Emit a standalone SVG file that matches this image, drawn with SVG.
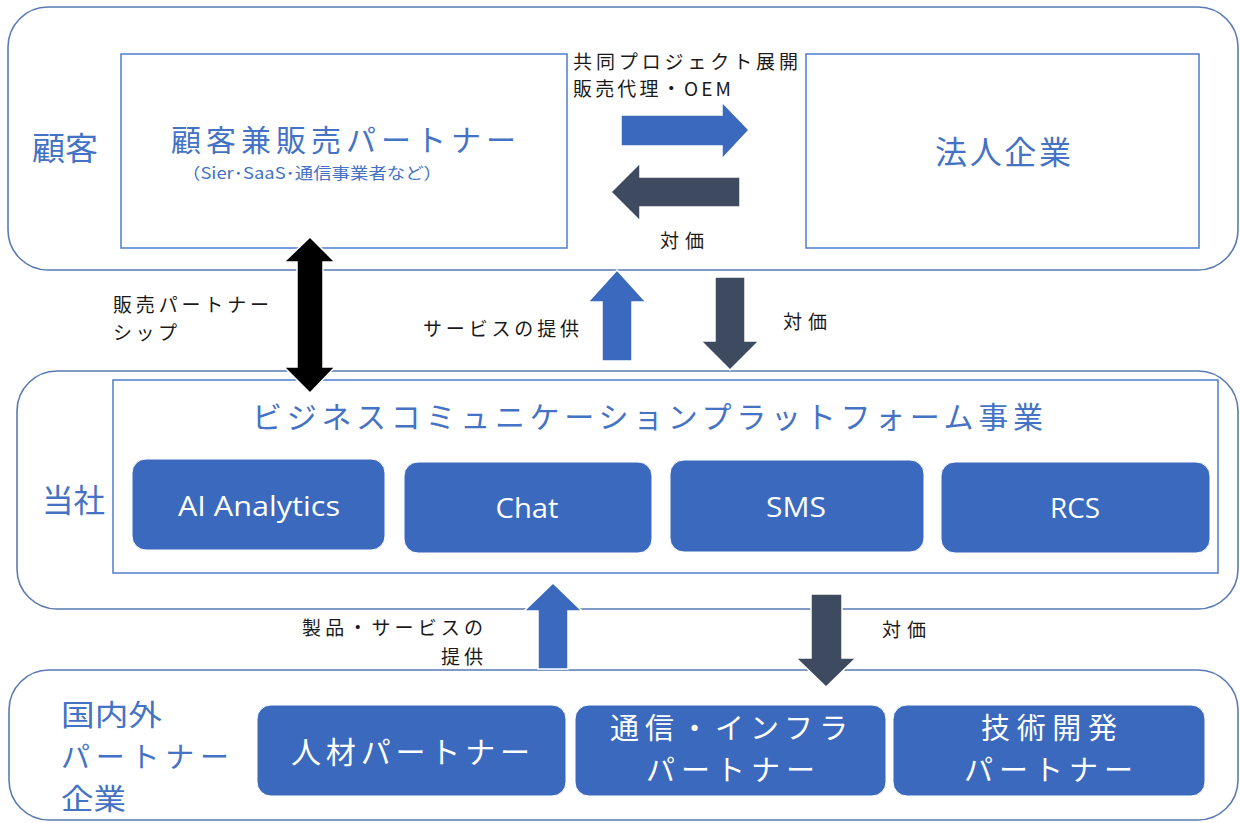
<svg xmlns="http://www.w3.org/2000/svg" width="1240" height="823" viewBox="0 0 1240 823">
<style>
.outer{fill:#fff;stroke:#5a7bb3;stroke-width:1.6}
.inner{fill:#fff;stroke:#4f7ccb;stroke-width:1.5}
.svc{fill:#3b69bd;stroke:#fff;stroke-width:1}
.jp{font-family:"Noto Sans CJK JP","Noto Sans",sans-serif}
.lbl{fill:#4472c4}
.blk{fill:#1a1a1a;font-size:19px}
.wt{fill:#fff}
.lat{font-family:"Open Sans","Liberation Sans",sans-serif;fill:#fff;font-size:28px}
.ablue{fill:#3b69bd;stroke:#fff;stroke-width:1.5}
.adark{fill:#3d4a5f;stroke:#fff;stroke-width:1.5}
.ablk{fill:#000;stroke:#fff;stroke-width:1.5}
</style>
<g id="layer-customer">
<rect class="outer" x="8" y="7" width="1230" height="263" rx="40"/>
<text class="jp lbl" x="32" y="160" font-size="32" textLength="66" lengthAdjust="spacingAndGlyphs">顧客</text>
</g>
<g id="layer-company">
<rect class="outer" x="17" y="371" width="1221" height="238" rx="40"/>
<text class="jp lbl" x="42" y="512" font-size="32" textLength="63" lengthAdjust="spacingAndGlyphs">当社</text>
</g>
<g id="layer-partners">
<rect class="outer" x="9" y="670" width="1229" height="150" rx="40"/>
<text class="jp lbl" x="61" y="726" font-size="29" textLength="101" lengthAdjust="spacingAndGlyphs">国内外</text>
<text class="jp lbl" x="61" y="768" font-size="29" textLength="168" lengthAdjust="spacing">パートナー</text>
<text class="jp lbl" x="61" y="810" font-size="29" textLength="65" lengthAdjust="spacingAndGlyphs">企業</text>
</g>
<g id="node-reseller">
<rect class="inner" x="121" y="54" width="446" height="194"/>
<text class="jp lbl" x="171" y="151" font-size="30" textLength="345" lengthAdjust="spacing">顧客兼販売パートナー</text>
<text class="jp lbl" x="182" y="179" font-size="16" textLength="260" lengthAdjust="spacingAndGlyphs">（Sier･SaaS･通信事業者など）</text>
</g>
<g id="node-corporate">
<rect class="inner" x="806" y="54" width="393" height="194"/>
<text class="jp lbl" x="935" y="164" font-size="32" textLength="136" lengthAdjust="spacing">法人企業</text>
</g>
<g id="node-platform">
<rect class="inner" x="113" y="380" width="1105" height="193"/>
<text class="jp lbl" x="252" y="428" font-size="30" textLength="791" lengthAdjust="spacing">ビジネスコミュニケーションプラットフォーム事業</text>
</g>
<g id="node-ai">
<rect class="svc" x="132" y="459" width="253" height="91" rx="14"/>
<text class="lat" x="259" y="516" text-anchor="middle" textLength="162" lengthAdjust="spacingAndGlyphs">AI Analytics</text>
</g>
<g id="node-chat">
<rect class="svc" x="404" y="462" width="248" height="91" rx="14"/>
<text class="lat" x="527" y="518" text-anchor="middle" textLength="63" lengthAdjust="spacingAndGlyphs">Chat</text>
</g>
<g id="node-sms">
<rect class="svc" x="670" y="460" width="254" height="92" rx="14"/>
<text class="lat" x="796" y="517" text-anchor="middle" textLength="60" lengthAdjust="spacingAndGlyphs">SMS</text>
</g>
<g id="node-rcs">
<rect class="svc" x="941" y="462" width="269" height="91" rx="14"/>
<text class="lat" x="1075" y="518" text-anchor="middle" textLength="50" lengthAdjust="spacingAndGlyphs">RCS</text>
</g>
<g id="node-hr">
<rect class="svc" x="257" y="705" width="309" height="91" rx="14"/>
<text class="jp wt" x="291" y="763" font-size="30" textLength="239" lengthAdjust="spacing">人材パートナー</text>
</g>
<g id="node-infra">
<rect class="svc" x="575" y="705" width="311" height="91" rx="14"/>
<text class="jp wt" x="610" y="739" font-size="29" textLength="238" lengthAdjust="spacing">通信・インフラ</text>
<text class="jp wt" x="646" y="781" font-size="29" textLength="169" lengthAdjust="spacing">パートナー</text>
</g>
<g id="node-tech">
<rect class="svc" x="893" y="705" width="312" height="91" rx="14"/>
<text class="jp wt" x="981" y="739" font-size="29" textLength="136" lengthAdjust="spacing">技術開発</text>
<text class="jp wt" x="964" y="781" font-size="29" textLength="169" lengthAdjust="spacing">パートナー</text>
</g>
<g id="connectors">
<polygon class="ablue" points="621,115 722,115 722,102 749,130 722,159 722,146 621,146"/>
<polygon class="adark" points="740,177 640,177 640,163 611,192 640,221 640,207 740,207"/>
<polygon class="ablk" points="310,237 335,262 323,262 323,367 335,367 310,393 284,367 297,367 297,262 284,262"/>
<polygon class="ablue" points="617,270 646,302 632,302 632,361 602,361 602,302 588,302"/>
<polygon class="adark" points="715,277 745,277 745,341 759,341 730,370 701,341 715,341"/>
<polygon class="ablue" points="553,583 582,611 568,611 568,669 538,669 538,611 524,611"/>
<polygon class="adark" points="811,594 842,594 842,658 856,658 826,687 796,658 811,658"/>
</g>
<g id="connector-labels">
<text class="jp blk" x="573" y="69" textLength="225" lengthAdjust="spacing">共同プロジェクト展開</text>
<text class="jp blk" x="573" y="96" textLength="158" lengthAdjust="spacing">販売代理・OEM</text>
<text class="jp blk" x="660" y="248" textLength="44" lengthAdjust="spacing">対価</text>
<text class="jp blk" x="113" y="312" textLength="156" lengthAdjust="spacing">販売パートナー</text>
<text class="jp blk" x="113" y="340" textLength="64" lengthAdjust="spacing">シップ</text>
<text class="jp blk" x="423" y="336" textLength="156" lengthAdjust="spacing">サービスの提供</text>
<text class="jp blk" x="783" y="329" textLength="44" lengthAdjust="spacing">対価</text>
<text class="jp blk" x="302" y="635" textLength="181" lengthAdjust="spacing">製品・サービスの</text>
<text class="jp blk" x="441" y="664" textLength="42" lengthAdjust="spacing">提供</text>
<text class="jp blk" x="882" y="637" textLength="44" lengthAdjust="spacing">対価</text>
</g>
</svg>
